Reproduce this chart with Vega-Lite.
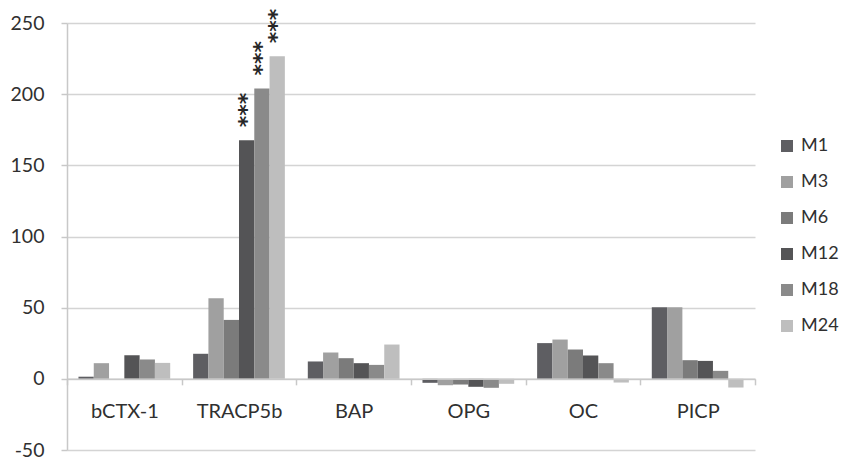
{
  "$schema": "https://vega.github.io/schema/vega-lite/v6.json",
  "autosize": {"type": "none"},
  "width": 688,
  "height": 427,
  "padding": {"left": 67, "top": 23, "right": 87, "bottom": 12},
  "background": "white",
  "config": {
    "view": {"stroke": null},
    "font": "Lato",
    "axis": {"labelFont": "Lato", "labelColor": "#303030", "titleFont": "Lato"},
    "legend": {"labelFont": "Lato"}
  },
  "data": {
    "values": [
      {"cat": "bCTX-1", "series": "M1", "value": 1.5, "sig": ""},
      {"cat": "bCTX-1", "series": "M3", "value": 11, "sig": ""},
      {"cat": "bCTX-1", "series": "M6", "value": 0, "sig": ""},
      {"cat": "bCTX-1", "series": "M12", "value": 16.6, "sig": ""},
      {"cat": "bCTX-1", "series": "M18", "value": 13.6, "sig": ""},
      {"cat": "bCTX-1", "series": "M24", "value": 11.2, "sig": ""},
      {"cat": "TRACP5b", "series": "M1", "value": 17.6, "sig": ""},
      {"cat": "TRACP5b", "series": "M3", "value": 56.7, "sig": ""},
      {"cat": "TRACP5b", "series": "M6", "value": 41.4, "sig": ""},
      {"cat": "TRACP5b", "series": "M12", "value": 167.7, "sig": "***"},
      {"cat": "TRACP5b", "series": "M18", "value": 204, "sig": "***"},
      {"cat": "TRACP5b", "series": "M24", "value": 226.7, "sig": "***"},
      {"cat": "BAP", "series": "M1", "value": 12.2, "sig": ""},
      {"cat": "BAP", "series": "M3", "value": 18.5, "sig": ""},
      {"cat": "BAP", "series": "M6", "value": 14.5, "sig": ""},
      {"cat": "BAP", "series": "M12", "value": 11, "sig": ""},
      {"cat": "BAP", "series": "M18", "value": 9.8, "sig": ""},
      {"cat": "BAP", "series": "M24", "value": 24.1, "sig": ""},
      {"cat": "OPG", "series": "M1", "value": -2.8, "sig": ""},
      {"cat": "OPG", "series": "M3", "value": -4.5, "sig": ""},
      {"cat": "OPG", "series": "M6", "value": -4.0, "sig": ""},
      {"cat": "OPG", "series": "M12", "value": -5.6, "sig": ""},
      {"cat": "OPG", "series": "M18", "value": -6.3, "sig": ""},
      {"cat": "OPG", "series": "M24", "value": -3.5, "sig": ""},
      {"cat": "OC", "series": "M1", "value": 25.1, "sig": ""},
      {"cat": "OC", "series": "M3", "value": 27.6, "sig": ""},
      {"cat": "OC", "series": "M6", "value": 20.6, "sig": ""},
      {"cat": "OC", "series": "M12", "value": 16.4, "sig": ""},
      {"cat": "OC", "series": "M18", "value": 11, "sig": ""},
      {"cat": "OC", "series": "M24", "value": -2.6, "sig": ""},
      {"cat": "PICP", "series": "M1", "value": 50.3, "sig": ""},
      {"cat": "PICP", "series": "M3", "value": 50.3, "sig": ""},
      {"cat": "PICP", "series": "M6", "value": 13.1, "sig": ""},
      {"cat": "PICP", "series": "M12", "value": 12.6, "sig": ""},
      {"cat": "PICP", "series": "M18", "value": 5.6, "sig": ""},
      {"cat": "PICP", "series": "M24", "value": -6.1, "sig": ""}
    ]
  },
  "encoding": {
    "x": {
      "field": "cat",
      "type": "nominal",
      "sort": ["bCTX-1", "TRACP5b", "BAP", "OPG", "OC", "PICP"],
      "scale": {"paddingInner": 0, "paddingOuter": 0},
      "axis": {
        "title": null,
        "offset": {"expr": "scale('y', 0) - height"},
        "tickBand": "extent",
        "labelAngle": 0,
        "labelFontSize": 20,
        "labelPadding": 17,
        "domainColor": "#c8c8c8",
        "domainWidth": 1.5,
        "tickColor": "#c8c8c8",
        "tickWidth": 1.5,
        "tickSize": 6,
        "grid": false,
        "zindex": 1
      }
    },
    "xOffset": {
      "field": "series",
      "type": "nominal",
      "sort": ["M1", "M3", "M6", "M12", "M18", "M24"],
      "scale": {"paddingInner": 0, "paddingOuter": 0.75}
    },
    "y": {
      "field": "value",
      "type": "quantitative",
      "scale": {"domain": [-50, 250], "nice": false, "zero": false},
      "axis": {
        "title": null,
        "values": [-50, 0, 50, 100, 150, 200, 250],
        "labelExpr": "'' + datum.value",
        "labelFontSize": 19.5,
        "labelPadding": 17,
        "tickSize": 6,
        "tickColor": "#c8c8c8",
        "tickWidth": 1.5,
        "domainColor": "#c8c8c8",
        "domainWidth": 1.5,
        "gridColor": "#d4d4d4",
        "gridWidth": 1.5
      }
    }
  },
  "layer": [
    {
      "mark": {"type": "bar"},
      "encoding": {
        "color": {
          "field": "series",
          "type": "nominal",
          "sort": ["M1", "M3", "M6", "M12", "M18", "M24"],
          "scale": {
            "domain": ["M1", "M3", "M6", "M12", "M18", "M24"],
            "range": ["#5e5e62", "#a0a0a0", "#7b7b7b", "#545456", "#8a8a8a", "#bebebe"]
          },
          "legend": {
            "title": null,
            "orient": "none",
            "legendX": 711,
            "legendY": 114,
            "symbolType": "square",
            "symbolSize": 144,
            "symbolStrokeWidth": 0,
            "labelFontSize": 18,
            "labelColor": "#303030",
            "labelOffset": 5,
            "rowPadding": 18
          }
        }
      }
    },
    {
      "transform": [{"filter": "datum.sig != ''"}],
      "mark": {
        "type": "text",
        "angle": 270,
        "align": "left",
        "baseline": "middle",
        "dx": 13,
        "font": "DejaVu Sans",
        "fontWeight": "bold",
        "fontSize": 22,
        "color": "#262626"
      },
      "encoding": {"text": {"field": "sig"}}
    }
  ]
}
